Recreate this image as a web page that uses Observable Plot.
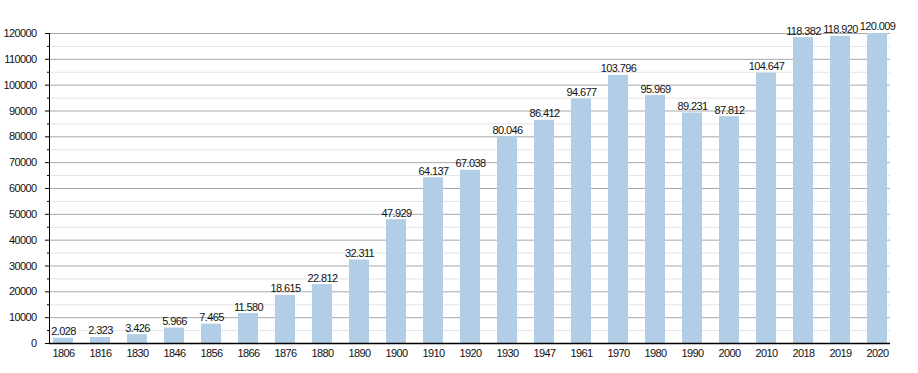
<!DOCTYPE html>
<html>
<head>
<meta charset="utf-8">
<script src="https://cdn.jsdelivr.net/npm/d3@7"></script>
<script src="https://cdn.jsdelivr.net/npm/@observablehq/plot@0.6"></script>
<style>
  body { margin: 0; background: #fff; }
  #chart svg { display: block; }
  #chart svg text { letter-spacing: -0.6px; }
</style>
</head>
<body>
<div id="chart"></div>
<script>
const years = ["1806","1816","1830","1846","1856","1866","1876","1880","1890","1900","1910","1920","1930","1947","1961","1970","1980","1990","2000","2010","2018","2019","2020"];
const population = [2028,2323,3426,5966,7465,11580,18615,22812,32311,47929,64137,67038,80046,86412,94677,103796,95969,89231,87812,104647,118382,118920,120009];
const majorTicks = [0,10000,20000,30000,40000,50000,60000,70000,80000,90000,100000,110000,120000];
const minorTicks = [5000,15000,25000,35000,45000,55000,65000,75000,85000,95000,105000,115000];

const fmt = d3.formatLocale({thousands: ".", grouping: [3], decimal: ",", currency: ["", ""]}).format(",d");
const data = years.map((y, i) => ({year: y, pop: population[i]}));

const chart = Plot.plot({
  width: 918,
  height: 373,
  marginLeft: 49,
  marginRight: 28,
  marginTop: 33,
  marginBottom: 30,
  style: {fontFamily: "'Liberation Sans', Arial, sans-serif", fontSize: "11px", color: "#111", background: "#fff"},
  x: {domain: years, paddingInner: 0.46, paddingOuter: 0.03, label: null},
  y: {domain: [0, 120000], label: null},
  marks: [
    Plot.ruleY(minorTicks, {stroke: "#e4e4e4", strokeWidth: 1}),
    Plot.ruleY(majorTicks, {stroke: "#a9a9a9", strokeWidth: 1}),
    Plot.barY(data, {x: "year", y: "pop", fill: "#b2cde6"}),
    Plot.text(data, {x: "year", y: "pop", text: d => fmt(d.pop), lineAnchor: "bottom", dy: -3, fill: "#111", fontSize: 11}),
    Plot.axisY(minorTicks, {tickSize: 2, tickFormat: () => "", stroke: "#000"}),
    Plot.axisY(majorTicks, {tickSize: 4, tickPadding: 9, tickFormat: d => String(d), stroke: "#000", fill: "#111", fontSize: 11}),
    Plot.axisX({tickSize: 0, tickPadding: 6, fill: "#111", fontSize: 11}),
    Plot.frame({anchor: "left", stroke: "#000"}),
    Plot.ruleY([0], {stroke: "#000", strokeWidth: 1.5})
  ]
});
document.getElementById("chart").appendChild(chart);
</script>
</body>
</html>
